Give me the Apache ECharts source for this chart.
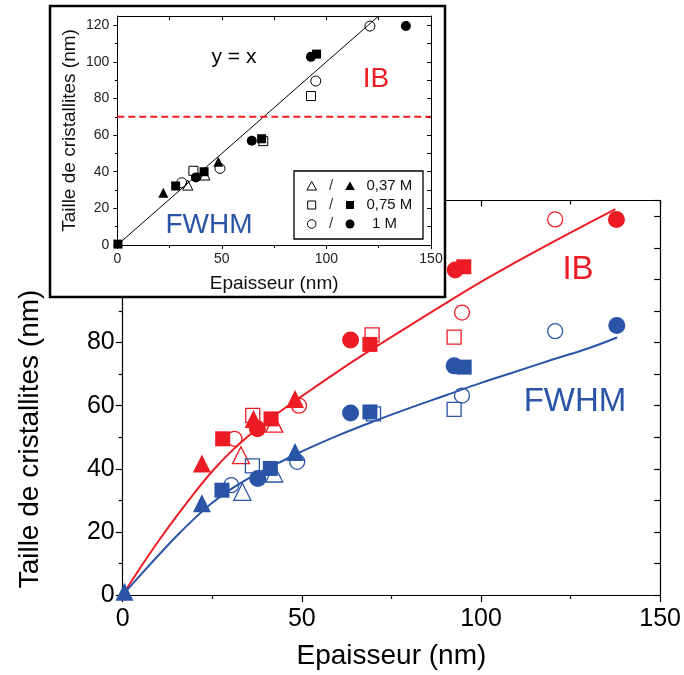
<!DOCTYPE html>
<html><head><meta charset="utf-8">
<script src="https://cdn.jsdelivr.net/npm/echarts@6/dist/echarts.min.js"></script>
<style>html,body{margin:0;padding:0;background:#fff}#c{width:684px;height:675px}</style>
</head><body><div id="c"></div>
<script>
const FONT = '"Liberation Sans", Arial, Helvetica, sans-serif';
const RED = '#ED1C24', BLUE = '#2A54A6';

// ---- main chart: [épaisseur (nm), taille de cristallites (nm)] ----
const ibFilledTri  = [[22.1,41.7],[36.5,55.8],[48.1,62.1]];
const ibFilledSq   = [[27.9,49.5],[41.4,55.8],[69.0,79.4],[95.2,104.0]];
const ibFilledCirc = [[37.6,52.7],[63.6,80.8],[92.8,103.0],[137.8,119.0]];
const ibOpenTri    = [[33.0,44.3],[42.3,54.3]];
const ibOpenSq     = [[36.3,56.9],[69.6,82.4],[92.5,81.7]];
const ibOpenCirc   = [[31.2,49.5],[49.2,60.0],[94.7,89.5],[120.7,119.0]];

const fwFilledTri  = [[0.5,1.0],[22.1,29.1],[48.1,45.3]];
const fwFilledSq   = [[27.7,33.2],[41.2,40.1],[69.0,58.0],[95.3,72.2]];
const fwFilledCirc = [[37.7,36.9],[63.6,57.7],[92.5,72.6],[137.9,85.4]];
const fwOpenTri    = [[33.4,32.7],[42.3,38.5]];
const fwOpenSq     = [[36.2,40.9],[70.0,57.4],[92.5,58.8]];
const fwOpenCirc   = [[30.3,34.8],[48.7,42.2],[94.7,63.2],[120.7,83.6]];

const ibFit = [[0,0],[5,8.8],[10,17.1],[15,24.9],[20,32.3],[25,39.2],[30,45.2],[35,50.3],[40,54.7],[45,59],[50,63],[60,70.8],[70,78.2],[80,85.3],[90,92.3],[100,99.2],[110,105.6],[120,111.8],[130,117.8],[137.5,122.3]];
const fwFit = [[0,0],[5,6.4],[10,12.6],[15,18.6],[20,24.2],[25,29.2],[30,33.4],[35,36.9],[40,39.9],[45,42.7],[50,45.5],[60,50.5],[70,55],[80,59.2],[90,63.2],[100,67.2],[110,70.9],[120,74.6],[130,78.2],[138,81.6]];

// ---- inset ----
const inOpenTri    = [[33.7,32.7],[41.9,38.2]];
const inFilledTri  = [[22.0,28.5],[48.3,45.5]];
const inOpenSq     = [[36.4,40.5],[69.8,56.7],[92.6,81.3]];
const inFilledSq   = [[0.3,0.5],[27.9,32.2],[41.5,40.0],[69.0,58.0],[95.3,104.2]];
const inOpenCirc   = [[30.8,34.0],[49.1,41.8],[94.9,89.5],[120.8,119.5]];
const inFilledCirc = [[37.6,36.9],[64.3,56.9],[92.6,102.7],[138.0,119.5]];
const identityLine = [[0,0],[125,125]];
const threshold = [[0,70],[150,70]];
const arrowFrom = [58.7,93.7], arrowTo = [76.4,78.2];

const yMajor = [0,20,40,60,80,100,120];
const yMinor = [10,30,50,70,90,110];
const yAll = [0,10,20,30,40,50,60,70,80,90,100,110,120];

function sc(name, data, symbol, size, color, open, xi, yi, z, lw) {
  return {
    name, type: 'scatter', data, symbol, symbolSize: size,
    xAxisIndex: xi, yAxisIndex: yi, z: z, silent: true,
    itemStyle: open ? {color: 'rgba(255,255,255,0)', borderColor: color, borderWidth: lw, opacity: 1}
                    : {color: color, borderWidth: 0, opacity: 1}
  };
}

const chart = echarts.init(document.getElementById('c'), null, {renderer: 'canvas'});
const axLine = {show: true, onZero: false, lineStyle: {color: '#000', width: 1.2}};
const inLine = {show: true, onZero: false, lineStyle: {color: '#000', width: 1}};

const option = {
  animation: false,
  backgroundColor: '#fff',
  textStyle: {fontFamily: FONT},
  grid: [
    {left: 122.7, right: 21.3, top: 200.5, bottom: 77.7, containLabel: false},
    {left: 117.3, right: 253, top: 16, bottom: 430, containLabel: false}
  ],
  xAxis: [
    {gridIndex: 0, type: 'value', min: 0, max: 150, interval: 50, position: 'bottom',
     axisLine: axLine, splitLine: {show: false},
     axisTick: {show: true, inside: false, length: 7, lineStyle: {color: '#000', width: 1.2}},
     minorTick: {show: true, splitNumber: 2, length: 4, lineStyle: {color: '#000', width: 1.2}},
     axisLabel: {fontSize: 25, color: '#000', margin: 12, fontFamily: FONT},
     name: 'Epaisseur (nm)', nameLocation: 'middle', nameGap: 47,
     nameTextStyle: {fontSize: 28, color: '#000', fontFamily: FONT}},
    {gridIndex: 0, type: 'value', min: 0, max: 150, interval: 50, position: 'top',
     axisLine: axLine, splitLine: {show: false}, axisLabel: {show: false},
     axisTick: {show: true, inside: true, length: 6, lineStyle: {color: '#000', width: 1.2}},
     minorTick: {show: true, splitNumber: 2, length: 4, lineStyle: {color: '#000', width: 1.2}}},
    {gridIndex: 1, type: 'value', min: 0, max: 150, interval: 50, position: 'bottom', z: 20,
     axisLine: inLine, splitLine: {show: false},
     axisTick: {show: true, inside: false, length: 4, lineStyle: {color: '#000'}},
     minorTick: {show: true, splitNumber: 2, length: 3, lineStyle: {color: '#000'}},
     axisLabel: {fontSize: 14, color: '#222', margin: 7, fontFamily: FONT},
     name: 'Epaisseur (nm)', nameLocation: 'middle', nameGap: 29,
     nameTextStyle: {fontSize: 19, color: '#111', fontFamily: FONT}},
    {gridIndex: 1, type: 'value', min: 0, max: 150, interval: 50, position: 'top', z: 20,
     axisLine: inLine, splitLine: {show: false}, axisLabel: {show: false},
     axisTick: {show: true, inside: true, length: 4, lineStyle: {color: '#000'}},
     minorTick: {show: true, splitNumber: 2, length: 4, lineStyle: {color: '#000'}}}
  ],
  yAxis: [
    {gridIndex: 0, type: 'value', min: 0, max: 125, interval: 20, position: 'left',
     axisLine: axLine, splitLine: {show: false},
     axisTick: {show: true, inside: false, length: 7, lineStyle: {color: '#000', width: 1.2}},
     minorTick: {show: true, splitNumber: 2, length: 4, lineStyle: {color: '#000', width: 1.2}},
     axisLabel: {fontSize: 25, color: '#000', margin: 8, fontFamily: FONT, showMaxLabel: false}},
    {gridIndex: 0, type: 'value', min: 0, max: 125, interval: 10, position: 'right',
     axisLine: axLine, splitLine: {show: false}, axisLabel: {show: false},
     axisTick: {show: true, inside: true, length: 6, lineStyle: {color: '#000', width: 1.2}}},
    {gridIndex: 1, type: 'value', min: 0, max: 125, interval: 20, position: 'left', z: 20,
     axisLine: inLine, splitLine: {show: false},
     axisTick: {show: true, inside: false, length: 4, customValues: yMajor, lineStyle: {color: '#000'}},
     axisLabel: {fontSize: 14, color: '#222', margin: 8, fontFamily: FONT, customValues: yMajor},
     name: 'Taille de cristallites (nm)', nameLocation: 'middle', nameGap: 38, nameRotate: 90,
     nameTextStyle: {fontSize: 19, color: '#111', fontFamily: FONT}},
    {gridIndex: 1, type: 'value', min: 0, max: 125, position: 'left', z: 20,
     axisLine: {show: false, onZero: false}, splitLine: {show: false}, axisLabel: {show: false},
     axisTick: {show: true, inside: false, length: 2.5, customValues: yMinor, lineStyle: {color: '#000'}}},
    {gridIndex: 1, type: 'value', min: 0, max: 125, position: 'right', z: 20,
     axisLine: inLine, splitLine: {show: false}, axisLabel: {show: false},
     axisTick: {show: true, inside: true, length: 4, customValues: yAll, lineStyle: {color: '#000'}}}
  ],
  series: [
    {type: 'line', data: ibFit, xAxisIndex: 0, yAxisIndex: 0, showSymbol: false, smooth: 0.4, silent: true, z: 2,
     lineStyle: {color: RED, width: 2}},
    {type: 'line', data: fwFit, xAxisIndex: 0, yAxisIndex: 0, showSymbol: false, smooth: 0.4, silent: true, z: 2,
     lineStyle: {color: BLUE, width: 2}},
    sc('ibOpenTri', ibOpenTri, 'triangle', 17, RED, true, 0, 0, 3, 1.3),
    sc('ibOpenSq', ibOpenSq, 'rect', 14, RED, true, 0, 0, 3, 1.3),
    sc('ibOpenCirc', ibOpenCirc, 'circle', 15, RED, true, 0, 0, 3, 1.3),
    sc('fwOpenTri', fwOpenTri, 'triangle', 17, BLUE, true, 0, 0, 3, 1.3),
    sc('fwOpenSq', fwOpenSq, 'rect', 14, BLUE, true, 0, 0, 3, 1.3),
    sc('fwOpenCirc', fwOpenCirc, 'circle', 15, BLUE, true, 0, 0, 3, 1.3),
    sc('ibFilledTri', ibFilledTri, 'triangle', 18, RED, false, 0, 0, 4),
    sc('ibFilledSq', ibFilledSq, 'rect', 15, RED, false, 0, 0, 4),
    sc('ibFilledCirc', ibFilledCirc, 'circle', 17, RED, false, 0, 0, 4),
    sc('fwFilledTri', fwFilledTri, 'triangle', 18, BLUE, false, 0, 0, 4),
    sc('fwFilledSq', fwFilledSq, 'rect', 15, BLUE, false, 0, 0, 4),
    sc('fwFilledCirc', fwFilledCirc, 'circle', 17, BLUE, false, 0, 0, 4),
    // inset
    {type: 'line', data: identityLine, xAxisIndex: 2, yAxisIndex: 2, showSymbol: false, silent: true, z: 22,
     lineStyle: {color: '#000', width: 1},
     markLine: {silent: true, symbol: ['none', 'triangle'], symbolSize: [9, 12], label: {show: false},
       lineStyle: {color: '#000', width: 1, type: 'solid'},
       data: [[{coord: arrowFrom}, {coord: arrowTo}]]}},
    {type: 'line', data: threshold, xAxisIndex: 2, yAxisIndex: 2, showSymbol: false, silent: true, z: 22,
     lineStyle: {color: RED, width: 2, type: [7, 4]}},
    sc('inOpenTri', inOpenTri, 'triangle', 10, '#000', true, 2, 2, 23, 1),
    sc('inOpenSq', inOpenSq, 'rect', 9, '#000', true, 2, 2, 23, 1),
    sc('inOpenCirc', inOpenCirc, 'circle', 10, '#000', true, 2, 2, 23, 1),
    sc('inFilledTri', inFilledTri, 'triangle', 10, '#000', false, 2, 2, 24),
    sc('inFilledSq', inFilledSq, 'rect', 9, '#000', false, 2, 2, 24),
    sc('inFilledCirc', inFilledCirc, 'circle', 10, '#000', false, 2, 2, 24)
  ],
  graphic: {elements: [
    {type: 'rect', z: 10, silent: true, shape: {x: 50, y: 6, width: 395, height: 291},
     style: {fill: '#fff', stroke: '#000', lineWidth: 2.5}},
    {type: 'text', z: 30, x: 30, y: 439, rotation: Math.PI / 2, silent: true,
     style: {text: 'Taille de cristallites (nm)', fill: '#000', font: '28px ' + FONT, align: 'center', verticalAlign: 'middle'}},
    {type: 'text', z: 30, x: 578, y: 270, silent: true,
     style: {text: 'IB', fill: RED, font: '33px ' + FONT, align: 'center', verticalAlign: 'middle'}},
    {type: 'text', z: 30, x: 575, y: 402, silent: true,
     style: {text: 'FWHM', fill: BLUE, font: '33px ' + FONT, align: 'center', verticalAlign: 'middle'}},
    {type: 'text', z: 30, x: 376, y: 79, silent: true,
     style: {text: 'IB', fill: RED, font: '28px ' + FONT, align: 'center', verticalAlign: 'middle'}},
    {type: 'text', z: 30, x: 209, y: 225, silent: true,
     style: {text: 'FWHM', fill: BLUE, font: '28px ' + FONT, align: 'center', verticalAlign: 'middle'}},
    {type: 'text', z: 30, x: 234, y: 57, silent: true,
     style: {text: 'y = x', fill: '#000', font: '21px ' + FONT, align: 'center', verticalAlign: 'middle'}},
    // legend box
    {type: 'rect', z: 30, silent: true, shape: {x: 294, y: 171, width: 129, height: 68},
     style: {fill: '#fff', stroke: '#000', lineWidth: 1.3}},
    {type: 'polygon', z: 31, silent: true, shape: {points: [[311.7,181.5],[316.5,190],[306.9,190]]},
     style: {fill: '#fff', stroke: '#000', lineWidth: 1}},
    {type: 'polygon', z: 31, silent: true, shape: {points: [[350,181.5],[354.8,190],[345.2,190]]},
     style: {fill: '#000'}},
    {type: 'rect', z: 31, silent: true, shape: {x: 307.7, y: 201, width: 8, height: 8},
     style: {fill: '#fff', stroke: '#000', lineWidth: 1}},
    {type: 'rect', z: 31, silent: true, shape: {x: 346, y: 201, width: 8, height: 8}, style: {fill: '#000'}},
    {type: 'circle', z: 31, silent: true, shape: {cx: 311.7, cy: 224, r: 4.3},
     style: {fill: '#fff', stroke: '#000', lineWidth: 1}},
    {type: 'circle', z: 31, silent: true, shape: {cx: 350, cy: 224, r: 4.5}, style: {fill: '#000'}},
    {type: 'text', z: 31, x: 331, y: 186, silent: true, style: {text: '/', fill: '#333', font: '15px ' + FONT, align: 'center', verticalAlign: 'middle'}},
    {type: 'text', z: 31, x: 331, y: 205, silent: true, style: {text: '/', fill: '#333', font: '15px ' + FONT, align: 'center', verticalAlign: 'middle'}},
    {type: 'text', z: 31, x: 331, y: 224, silent: true, style: {text: '/', fill: '#333', font: '15px ' + FONT, align: 'center', verticalAlign: 'middle'}},
    {type: 'text', z: 31, x: 366.5, y: 186, silent: true, style: {text: '0,37 M', fill: '#111', font: '15px ' + FONT, align: 'left', verticalAlign: 'middle'}},
    {type: 'text', z: 31, x: 366.5, y: 205, silent: true, style: {text: '0,75 M', fill: '#111', font: '15px ' + FONT, align: 'left', verticalAlign: 'middle'}},
    {type: 'text', z: 31, x: 372, y: 224, silent: true, style: {text: '1 M', fill: '#111', font: '15px ' + FONT, align: 'left', verticalAlign: 'middle'}}
  ]}
};
chart.setOption(option);
</script>
</body></html>
